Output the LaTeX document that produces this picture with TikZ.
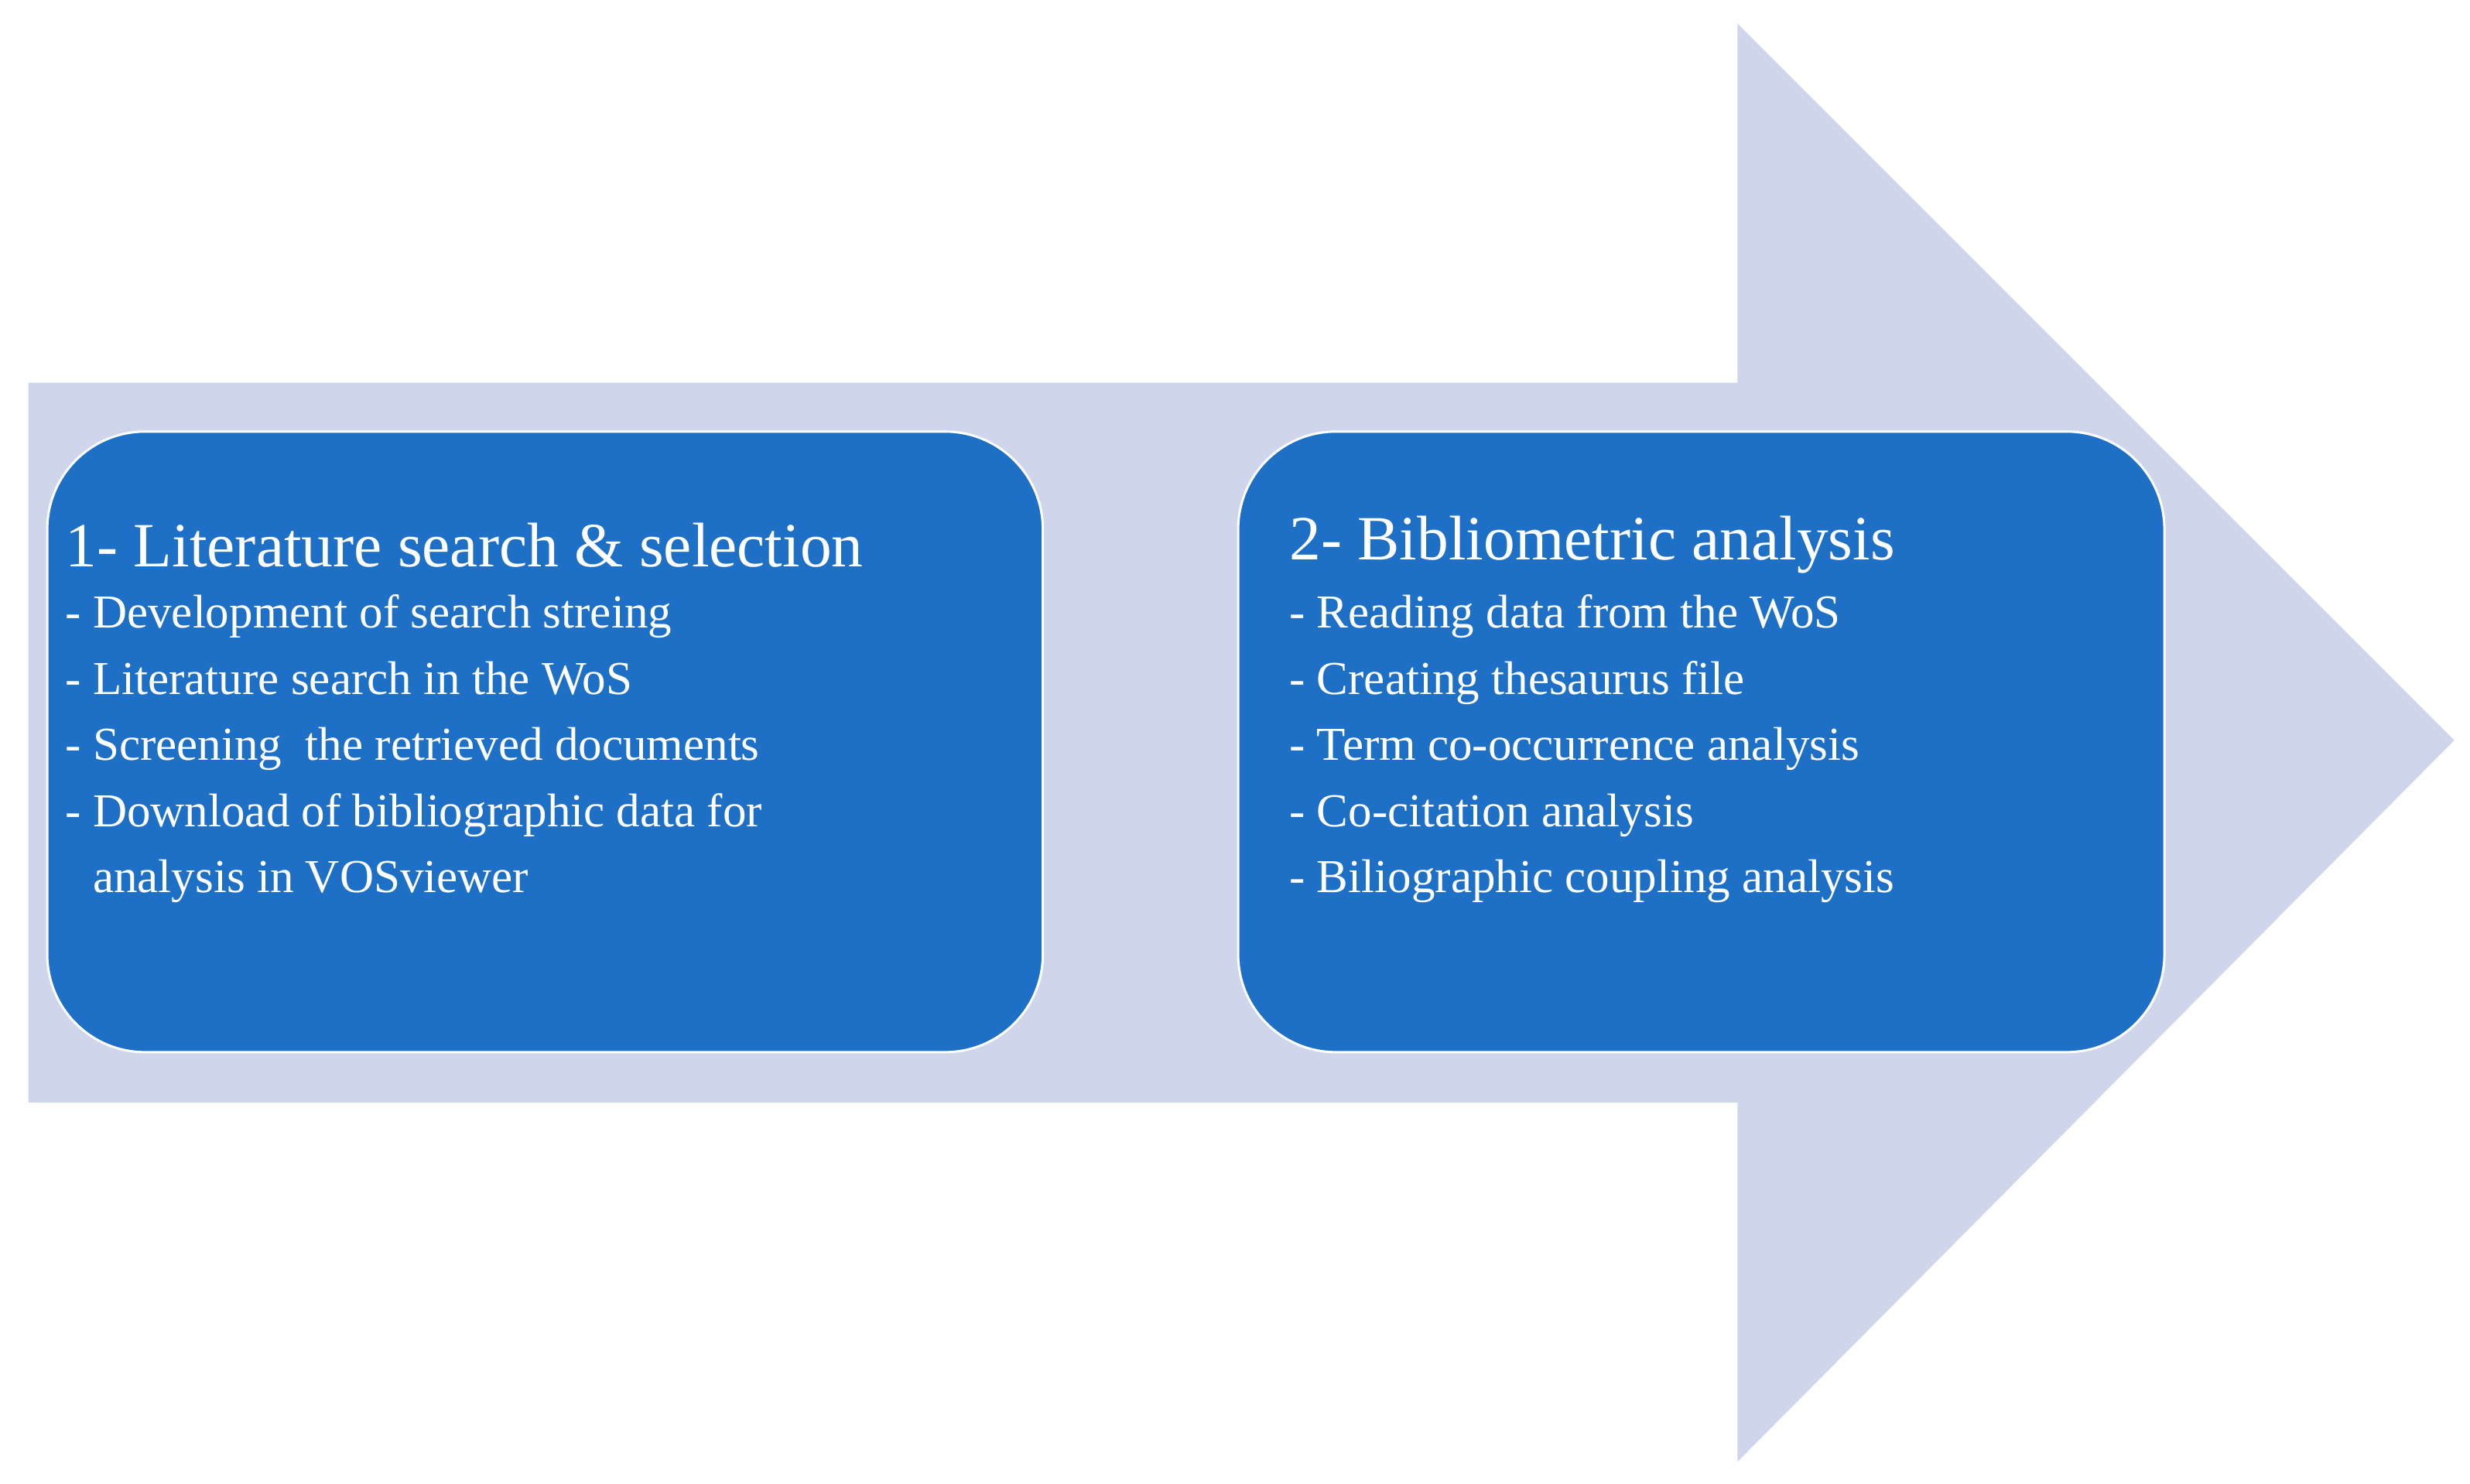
\documentclass[tikz,border=0pt]{standalone}
\usepackage{fontspec}
\setmainfont{Liberation Serif}
\definecolor{arr}{RGB}{207,213,234}
\definecolor{bx}{RGB}{30,112,198}
\begin{document}
\begin{tikzpicture}[x=1pt,y=-1pt,
 box/.style={draw=white,line width=1.5pt,fill=bx,rounded corners=62pt},
 ttl/.style={anchor=west,text=white,font=\fontsize{40}{44}\selectfont},
 itm/.style={anchor=north west,text=white,align=left,font=\fontsize{30}{42}\selectfont}]
\useasboundingbox (0,0) rectangle (1568,942);
\fill[arr] (18,243) -- (1103,243) -- (1103,15) -- (1558,470) -- (1103,928) -- (1103,700) -- (18,700) -- cycle;
\draw[box] (30,274) rectangle (662,668);
\draw[box] (786,274) rectangle (1374,668);
\node[ttl] (t1) at (38,346) {1- Literature search \& selection};
\node[itm] (l1) at (38,374) {- Development of search streing\\- Literature search in the WoS\\- Screening~~the retrieved documents\\- Download of bibliographic data for\\\phantom{- }analysis in VOSviewer};
\node[ttl] (t2) at (815,346) {2- Bibliometric analysis};
\node[itm] (l2) at (815,374) {- Reading data from the WoS\\- Creating thesaurus file\\- Term co-occurrence analysis\\- Co-citation analysis\\- Biliographic coupling analysis};
\end{tikzpicture}
\end{document}
